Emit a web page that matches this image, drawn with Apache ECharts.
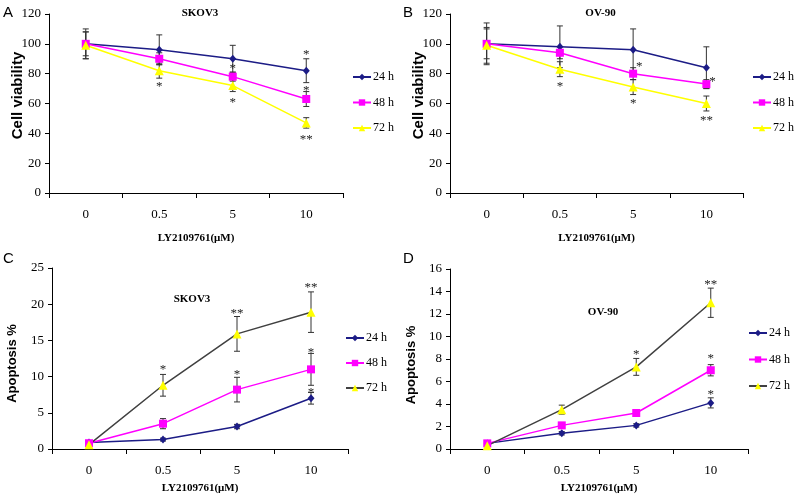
<!DOCTYPE html>
<html><head><meta charset="utf-8">
<script src="https://cdn.jsdelivr.net/npm/echarts@6/dist/echarts.min.js"></script>
<style>html,body{margin:0;padding:0;background:#fff}#c{width:800px;height:500px}</style>
</head><body><div id="c"></div>
<script>
// ---------- DATA ----------
const categories = ['0', '0.5', '5', '10'];
const seriesNames = ['24 h', '48 h', '72 h'];

// Panel A: SKOV3 cell viability
const A_24 = [100, 96, 90, 82];   const A_24_err = [10, 10, 9, 8];
const A_48 = [100, 90, 78, 63];   const A_48_err = [8, 4, 3, 5];
const A_72 = [99, 82, 72, 47];    const A_72_err = [9, 5, 4, 3.5];
const A_stars = [[1, 73.4, '*'], [2, 85.7, '*'], [2, 62.7, '*'], [3, 94.7, '*'], [3, 70.7, '*'], [3, 37.6, '**']];

// Panel B: OV-90 cell viability
const B_24 = [100, 98, 96, 84];   const B_24_err = [14, 14, 14, 14];
const B_48 = [100, 94, 80, 73];   const B_48_err = [10, 4, 4, 3];
const B_72 = [99, 83, 71, 60];    const B_72_err = [12, 5, 5, 5];
const B_stars = [[1, 73.4, '*'], [2, 87, '*', 'r'], [2, 61.7, '*'], [3, 76.4, '*', 'r'], [3, 50.3, '**']];

// Panel C: SKOV3 apoptosis
const C_24 = [0.9, 1.3, 3.1, 7.0];   const C_24_err = [0.2, 0.2, 0.3, 0.8];
const C_48 = [0.8, 3.5, 8.2, 11.0];  const C_48_err = [0.2, 0.7, 1.7, 2.2];
const C_72 = [0.6, 8.8, 15.9, 18.9]; const C_72_err = [0.2, 1.5, 2.4, 2.8];
const C_stars = [[1, 11.4, '*'], [2, 19.1, '**'], [2, 10.7, '*'], [3, 22.7, '**'], [3, 13.8, '*'], [3, 8.2, '*']];

// Panel D: OV-90 apoptosis
const D_24 = [0.5, 1.4, 2.1, 4.1];   const D_24_err = [0.1, 0.15, 0.15, 0.45];
const D_48 = [0.5, 2.1, 3.2, 7.0];   const D_48_err = [0.1, 0.2, 0.2, 0.5];
const D_72 = [0.3, 3.5, 7.3, 13.0];  const D_72_err = [0.1, 0.4, 0.75, 1.3];
const D_stars = [[2, 8.67, '*'], [3, 14.9, '**'], [3, 8.3, '*'], [3, 5.1, '*']];

const panelTitles = ['SKOV3', 'OV-90', 'SKOV3', 'OV-90'];
const panelLetters = ['A', 'B', 'C', 'D'];
const yNames = ['Cell viability', 'Cell viability', 'Apoptosis %', 'Apoptosis %'];
const xName = 'LY2109761(\u03bcM)';
const yMax = [120, 120, 25, 16];
const yInterval = [20, 20, 5, 2];

// ---------- STYLE / LAYOUT ----------
const SERIF = 'Liberation Serif';
const SANS = 'Liberation Sans';
const NAVY = '#1c1c86', MAGENTA = '#ff00ff', YELLOW = '#ffff00', DARK = '#404040';
const grids = [
  { left: 49, top: 14, width: 294, height: 179 },
  { left: 450, top: 14, width: 293, height: 179 },
  { left: 52, top: 268, width: 296, height: 181 },
  { left: 450, top: 269, width: 298, height: 180 }
];
const panels = [
  { vals: [A_24, A_48, A_72], errs: [A_24_err, A_48_err, A_72_err], stars: A_stars },
  { vals: [B_24, B_48, B_72], errs: [B_24_err, B_48_err, B_72_err], stars: B_stars },
  { vals: [C_24, C_48, C_72], errs: [C_24_err, C_48_err, C_72_err], stars: C_stars },
  { vals: [D_24, D_48, D_72], errs: [D_24_err, D_48_err, D_72_err], stars: D_stars }
];
const yNameGap = [24, 24, 33, 32];
const yNamePad = [[0, 0, 0, 16], [0, 0, 0, 16], [0, 10, 0, 0], [0, 12, 0, 0]];
const xNameGap = [40, 40, 34, 34];

function errRender(params, api) {
  const x = api.value(0), lo = api.value(1), hi = api.value(2);
  const p1 = api.coord([x, hi]), p2 = api.coord([x, lo]);
  const w = 3;
  const st = { stroke: '#333', lineWidth: 1 };
  return { type: 'group', children: [
    { type: 'line', shape: { x1: p1[0], y1: p1[1], x2: p2[0], y2: p2[1] }, style: st },
    { type: 'line', shape: { x1: p1[0] - w, y1: p1[1], x2: p1[0] + w, y2: p1[1] }, style: st },
    { type: 'line', shape: { x1: p2[0] - w, y1: p2[1], x2: p2[0] + w, y2: p2[1] }, style: st }
  ]};
}
function starRender(stars) {
  return function (params, api) {
    const s = stars[params.dataIndex];
    const p = api.coord([api.value(0), api.value(1)]);
    return { type: 'text', x: p[0] + (s[3] === 'r' ? 6 : 0), y: p[1] + 3,
      style: { text: s[2], fontSize: 13, fontFamily: SERIF, fill: '#222', align: 'center', verticalAlign: 'middle' } };
  };
}

const xAxes = [], yAxes = [], series = [], titles = [], legends = [];
const symbols = ['diamond', 'rect', 'triangle'];
const symSizes = [[7, 8], 8, 9];
const markerColors = [NAVY, MAGENTA, YELLOW];

panels.forEach(function (pn, i) {
  xAxes.push({
    gridIndex: i, type: 'category', data: categories, boundaryGap: true,
    axisLine: { show: true, lineStyle: { color: '#000', width: 1 } },
    axisTick: { show: true, inside: false, length: 5, alignWithLabel: false, lineStyle: { color: '#000' } },
    axisLabel: { color: '#000', fontFamily: SERIF, fontSize: 13, margin: 15 },
    splitLine: { show: false },
    name: xName, nameLocation: 'middle', nameGap: xNameGap[i], nameMoveOverlap: false,
    nameTextStyle: { fontFamily: SERIF, fontWeight: 'bold', fontSize: 11, color: '#000' }
  });
  yAxes.push({
    gridIndex: i, type: 'value', min: 0, max: yMax[i], interval: yInterval[i],
    splitLine: { show: false },
    axisLine: { show: true, lineStyle: { color: '#000', width: 1 } },
    axisTick: { show: true, inside: false, length: 4, lineStyle: { color: '#000' } },
    axisLabel: { color: '#000', fontFamily: SERIF, fontSize: 13, margin: 8 },
    name: yNames[i], nameLocation: 'middle', nameGap: yNameGap[i], nameRotate: 90, nameMoveOverlap: false,
    nameTextStyle: { fontFamily: SANS, fontWeight: 'bold', fontSize: i < 2 ? 15 : 13, color: '#000', padding: yNamePad[i] }
  });
  // error bars
  const errData = [];
  pn.vals.forEach(function (v, k) {
    v.forEach(function (y, j) { errData.push([j, y - pn.errs[k][j], y + pn.errs[k][j]]); });
  });
  series.push({ type: 'custom', xAxisIndex: i, yAxisIndex: i, renderItem: errRender, data: errData, z: 1, silent: true,
    encode: { x: 0, y: [1, 2] } });
  // lines
  pn.vals.forEach(function (v, k) {
    const lineColor = (k === 2 && i >= 2) ? DARK : markerColors[k];
    series.push({
      type: 'line', name: seriesNames[k], xAxisIndex: i, yAxisIndex: i, data: v,
      symbol: symbols[k], symbolSize: symSizes[k], showAllSymbol: true,
      lineStyle: { color: lineColor, width: 1.5 },
      itemStyle: { color: markerColors[k] },
      z: 3
    });
  });
  // significance stars
  series.push({ type: 'custom', xAxisIndex: i, yAxisIndex: i, renderItem: starRender(pn.stars),
    data: pn.stars.map(function (s) { return [s[0], s[1]]; }), z: 4, silent: true });

  const g = grids[i];
  titles.push({ text: panelTitles[i], left: g.left + g.width / 2 + (i === 2 ? -8 : 4), top: i < 2 ? 8 : (i === 2 ? 294 : 307),
    textAlign: 'center', padding: 0,
    textStyle: { fontFamily: SERIF, fontWeight: 'bold', fontSize: 11, color: '#000' } });
  titles.push({ text: panelLetters[i], left: i % 2 ? 403 : 3, top: i < 2 ? 5 : 251, padding: 0,
    textStyle: { fontFamily: SANS, fontWeight: 'normal', fontSize: 15, color: '#000' } });
});

const legendPos = [
  { left: 352, top: 70, itemGap: 11.5 },
  { left: 752, top: 70, itemGap: 11.5 },
  { left: 345, top: 331, itemGap: 11 },
  { left: 748, top: 326, itemGap: 12.5 }
];
legendPos.forEach(function (lp, i) {
  legends.push({
    orient: 'vertical', left: lp.left, top: lp.top, itemGap: lp.itemGap, padding: 0,
    itemWidth: 18, itemHeight: 8, selectedMode: false,
    textStyle: { fontFamily: SERIF, fontSize: 12, color: '#000', lineHeight: 14, padding: [0, 0, 0, -3] },
    data: seriesNames.map(function (n, k) {
      const d = { name: n };
      if (k === 2 && i >= 2) d.lineStyle = { color: DARK };
      return d;
    })
  });
});

const chart = echarts.init(document.getElementById('c'), null, { renderer: 'canvas' });
chart.setOption({
  animation: false,
  backgroundColor: '#fff',
  title: titles,
  legend: legends,
  grid: grids,
  xAxis: xAxes,
  yAxis: yAxes,
  series: series
});
</script></body></html>
